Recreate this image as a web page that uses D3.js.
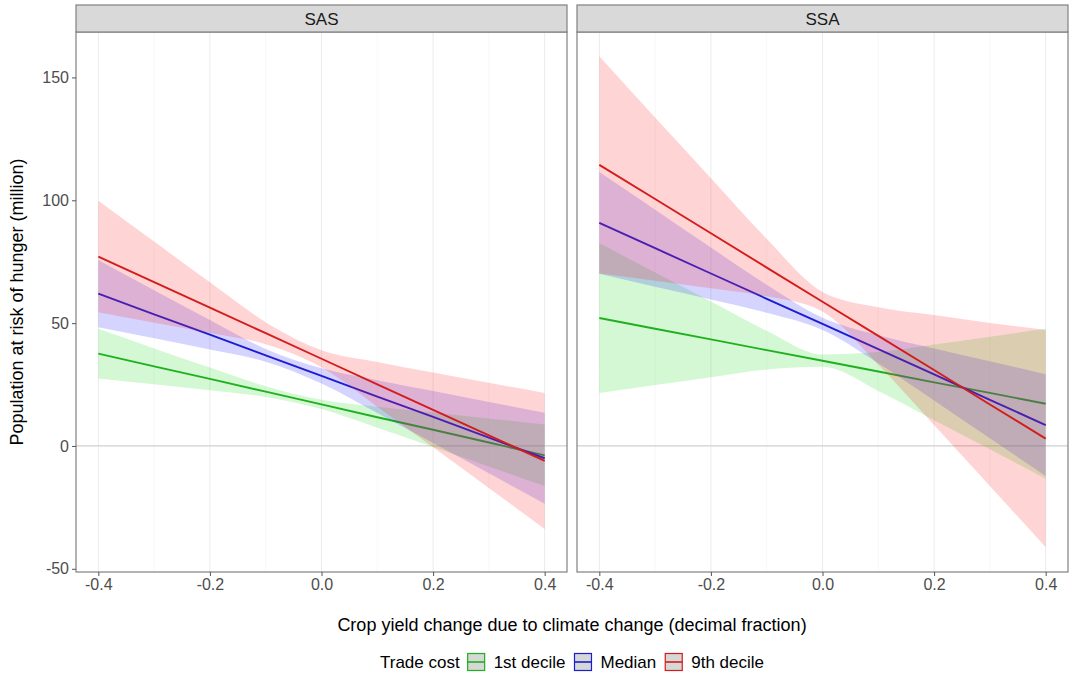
<!DOCTYPE html>
<html>
<head>
<meta charset="utf-8">
<script src="https://cdn.jsdelivr.net/npm/d3@7"></script>
<style>
body { margin: 0; background: #fff; }
svg { font-family: "Liberation Sans", Arial, sans-serif; }
</style>
</head>
<body>
<svg width="1071" height="675"></svg>
<script>
var xVals = [-0.4, -0.3, -0.2, -0.1, 0, 0.1, 0.2, 0.3, 0.4];
var regions = ['SAS', 'SSA'];
var tradeCost = ['1st decile', 'Median', '9th decile'];
var xTicks = [-0.4, -0.2, 0.0, 0.2, 0.4];
var xMinor = [-0.3, -0.1, 0.1, 0.3];
var yTicks = [-50, 0, 50, 100, 150];

// SAS
var sasFirstFit = [37.6, 32.4, 27.3, 22.1, 16.9, 11.7, 6.6, 1.4, -3.8];
var sasFirstLo  = [27.5, 25.1, 22.7, 19.9, 15.0, 7.4, -0.4, -8.4, -16.3];
var sasFirstHi  = [47.7, 39.7, 31.9, 24.3, 18.8, 16.0, 13.6, 11.2, 8.7];
var sasMedFit   = [62.0, 53.6, 45.3, 36.9, 28.5, 20.1, 11.8, 3.4, -5.0];
var sasMedLo    = [48.3, 43.8, 39.3, 34.3, 25.4, 13.4, 1.2, -11.1, -23.5];
var sasMedHi    = [75.7, 63.4, 51.3, 39.5, 31.6, 26.8, 22.4, 17.9, 13.5];
var sasNinthFit = [77.1, 66.7, 56.3, 45.9, 35.5, 25.1, 14.7, 4.3, -6.1];
var sasNinthLo  = [54.4, 50.2, 46.0, 41.4, 32.0, 16.0, -0.5, -17.1, -33.8];
var sasNinthHi  = [99.8, 83.2, 66.6, 50.4, 39.0, 34.2, 29.9, 25.7, 21.6];

// SSA
var ssaFirstFit = [52.1, 47.7, 43.4, 39.0, 34.7, 30.3, 25.9, 21.6, 17.2];
var ssaFirstLo  = [21.6, 24.8, 28.0, 31.1, 32.2, 22.4, 10.5, -1.3, -13.3];
var ssaFirstHi  = [82.6, 70.6, 58.8, 46.9, 37.2, 38.2, 41.3, 44.5, 47.7];
var ssaMedFit   = [90.8, 80.5, 70.2, 59.9, 49.7, 39.4, 29.1, 18.8, 8.5];
var ssaMedLo    = [70.1, 64.8, 59.6, 54.2, 47.2, 33.7, 18.5, 3.1, -12.2];
var ssaMedHi    = [111.5, 96.2, 80.8, 65.6, 52.2, 45.1, 39.7, 34.5, 29.2];
var ssaNinthFit = [114.4, 100.5, 86.6, 72.6, 58.7, 44.8, 30.9, 16.9, 3.0];
var ssaNinthLo  = [70.2, 67.3, 64.2, 60.9, 54.7, 33.1, 8.5, -16.3, -41.2];
var ssaNinthHi  = [158.6, 133.7, 109.0, 84.3, 62.7, 56.5, 53.3, 50.1, 47.2];

var lineColors = ['#1fb01f', '#1c1cd2', '#d31c1c'];
var fillColors = ['#22dd22', '#2a2aff', '#ff2a2a'];

var panels = [
    [[sasFirstFit, sasFirstLo, sasFirstHi], [sasMedFit, sasMedLo, sasMedHi], [sasNinthFit, sasNinthLo, sasNinthHi]],
    [[ssaFirstFit, ssaFirstLo, ssaFirstHi], [ssaMedFit, ssaMedLo, ssaMedHi], [ssaNinthFit, ssaNinthLo, ssaNinthHi]]
];

var svg = d3.select('svg');
var panelLeft = [76, 577],
    panelW = 491,
    panelTop = 32,
    panelH = 540,
    stripTop = 5;
var font = '"Liberation Sans", Arial, sans-serif';

var x = d3.scaleLinear().domain([-0.44, 0.44]).range([0, panelW]);
var y = d3.scaleLinear().domain([-51.3, 168.5]).range([panelH, 0]);

var area = d3.area()
    .curve(d3.curveMonotoneX)
    .x(function(d) { return x(d.x); })
    .y0(function(d) { return y(d.lo); })
    .y1(function(d) { return y(d.hi); });
var line = d3.line()
    .x(function(d) { return x(d.x); })
    .y(function(d) { return y(d.fit); });

regions.forEach(function(region, p) {
    var g = svg.append('g').attr('transform', 'translate(' + panelLeft[p] + ',' + panelTop + ')');

    // grid
    g.selectAll('.minor').data(xMinor).enter().append('line')
        .attr('x1', x).attr('x2', x).attr('y1', 0).attr('y2', panelH)
        .attr('stroke', '#f3f3f3').attr('stroke-width', 0.6);
    g.selectAll('.major').data(xTicks).enter().append('line')
        .attr('x1', x).attr('x2', x).attr('y1', 0).attr('y2', panelH)
        .attr('stroke', '#ebebeb').attr('stroke-width', 1);

    // zero line
    g.append('line')
        .attr('x1', 0).attr('x2', panelW).attr('y1', y(0)).attr('y2', y(0))
        .attr('stroke', '#cfcfcf').attr('stroke-width', 1.3);

    // ribbon + line per trade cost group
    panels[p].forEach(function(s, i) {
        var rows = xVals.map(function(xv, k) {
            return { x: xv, fit: s[0][k], lo: s[1][k], hi: s[2][k] };
        });
        g.append('path').datum(rows)
            .attr('d', area)
            .attr('fill', fillColors[i])
            .attr('fill-opacity', 0.2);
        g.append('path').datum(rows)
            .attr('d', line)
            .attr('fill', 'none')
            .attr('stroke', lineColors[i])
            .attr('stroke-width', 1.9);
    });

    // border
    g.append('rect')
        .attr('width', panelW).attr('height', panelH)
        .attr('fill', 'none').attr('stroke', '#808080').attr('stroke-width', 1.2);

    // strip
    svg.append('rect')
        .attr('x', panelLeft[p]).attr('y', stripTop)
        .attr('width', panelW).attr('height', panelTop - stripTop)
        .attr('fill', '#d9d9d9').attr('stroke', '#808080').attr('stroke-width', 1.2);
    svg.append('text')
        .attr('x', panelLeft[p] + panelW / 2).attr('y', (stripTop + panelTop) / 2 + 1)
        .attr('text-anchor', 'middle').attr('dominant-baseline', 'central')
        .attr('font-size', 17).attr('fill', '#1a1a1a')
        .text(region);

    // x axis
    var xa = svg.append('g')
        .attr('transform', 'translate(' + panelLeft[p] + ',' + (panelTop + panelH) + ')')
        .call(d3.axisBottom(x).tickValues(xTicks).tickSize(4).tickPadding(3)
            .tickFormat(function(d) { return d.toFixed(1); }));
    xa.select('.domain').remove();
    xa.selectAll('line').attr('stroke', '#555');
    xa.selectAll('text').attr('font-size', 16).attr('fill', '#4d4d4d').attr('font-family', font);

    if (p === 0) {
        var ya = svg.append('g')
            .attr('transform', 'translate(' + panelLeft[p] + ',' + panelTop + ')')
            .call(d3.axisLeft(y).tickValues(yTicks).tickSize(4).tickPadding(3)
                .tickFormat(function(d) { return String(d); }));
        ya.select('.domain').remove();
        ya.selectAll('line').attr('stroke', '#555');
        ya.selectAll('text').attr('font-size', 16).attr('fill', '#4d4d4d').attr('font-family', font);
    }
});

// axis titles
svg.append('text')
    .attr('x', (panelLeft[0] + panelLeft[1] + panelW) / 2).attr('y', 631)
    .attr('text-anchor', 'middle').attr('font-size', 18).attr('fill', '#000')
    .text('Crop yield change due to climate change (decimal fraction)');
svg.append('text')
    .attr('transform', 'translate(23,' + (panelTop + panelH / 2) + ') rotate(-90)')
    .attr('text-anchor', 'middle').attr('font-size', 18).attr('fill', '#000')
    .text('Population at risk of hunger (million)');

// legend
var legend = svg.append('g');
var lx = 0, ly = 662;
var title = legend.append('text').attr('x', lx).attr('y', ly)
    .attr('dominant-baseline', 'central').attr('font-size', 17).text('Trade cost');
lx += title.node().getComputedTextLength() + 8;
tradeCost.forEach(function(name, i) {
    legend.append('rect')
        .attr('x', lx).attr('y', ly - 8.5).attr('width', 17).attr('height', 17)
        .attr('fill', '#d5d8d5').attr('stroke', lineColors[i]).attr('stroke-width', 1.2);
    legend.append('line')
        .attr('x1', lx).attr('x2', lx + 17).attr('y1', ly).attr('y2', ly)
        .attr('stroke', lineColors[i]).attr('stroke-width', 1.6);
    lx += 26;
    var t = legend.append('text').attr('x', lx).attr('y', ly)
        .attr('dominant-baseline', 'central').attr('font-size', 17).text(name);
    lx += t.node().getComputedTextLength() + 9;
});
legend.attr('transform', 'translate(' + ((panelLeft[0] + panelLeft[1] + panelW) / 2 - (lx - 9) / 2) + ',0)');
</script>
</body>
</html>
